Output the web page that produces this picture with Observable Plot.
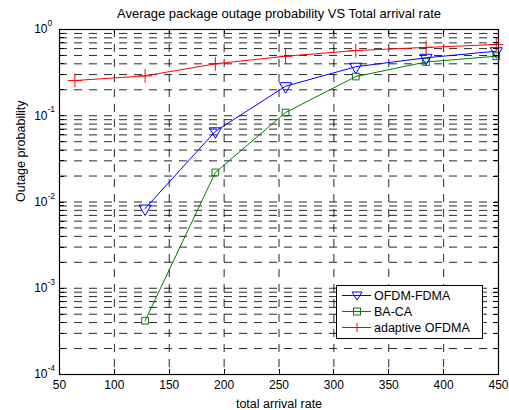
<!DOCTYPE html>
<html>
<head>
<meta charset="utf-8">
<script src="https://cdn.jsdelivr.net/npm/d3@7"></script>
<script src="https://cdn.jsdelivr.net/npm/@observablehq/plot@0.6"></script>
<style>
  html, body { margin: 0; padding: 0; background: #fff; }
  svg { font-family: "Liberation Sans", Arial, sans-serif; }
</style>
</head>
<body>
<div id="chart"></div>
<script>
const titleText = "Average package outage probability VS Total arrival rate";
const xLabel = "total arrival rate";
const yLabel = "Outage probability";

const arrivalRate = [64, 128, 192, 256, 320, 384, 448];
const ofdmFdma = [null, 0.0084, 0.066, 0.22, 0.37, 0.47, 0.56];
const baCa = [null, 0.00042, 0.022, 0.109, 0.285, 0.42, 0.49];
const adaptiveOfdma = [0.256, 0.29, 0.40, 0.49, 0.57, 0.62, 0.67];

const seriesNames = ["OFDM-FDMA", "BA-CA", "adaptive OFDMA"];
const seriesColors = ["#0000ff", "#008000", "#ff0000"];

const xTicks = [50, 100, 150, 200, 250, 300, 350, 400, 450];
const yMajor = [1e-4, 1e-3, 1e-2, 1e-1, 1];
const yMinorMult = [2, 3, 4, 5, 6, 7, 8, 9];

(function () {
const yAll = [];
for (const m of yMajor.slice(0, -1)) {
  for (const k of [1, ...yMinorMult]) yAll.push(k * m);
}
yAll.push(1);
const yGrid = yAll.filter(v => v > 1e-4 * 1.0001 && v < 0.9999);
const xGrid = xTicks.slice(1, -1);

function toRows(vals) {
  return arrivalRate.map((x, i) => ({x, y: vals[i]})).filter(d => d.y != null);
}
const rowsBlue = toRows(ofdmFdma);
const rowsGreen = toRows(baCa);
const rowsRed = toRows(adaptiveOfdma);

const dash = "8,7";
const fs = 12.5;

const plot = Plot.plot({
  width: 509,
  height: 410,
  marginLeft: 59,
  marginRight: 11,
  marginTop: 29,
  marginBottom: 36,
  style: {fontFamily: "Liberation Sans, Arial, sans-serif", fontSize: "12px", background: "#fff", color: "#000"},
  x: {domain: [50, 450], axis: null},
  y: {type: "log", domain: [1e-4, 1], axis: null},
  marks: [
    Plot.ruleX(xGrid, {x: d => d, stroke: "#000", strokeWidth: 1, strokeDasharray: dash, strokeOpacity: 0.85}),
    Plot.ruleY(yGrid, {y: d => d, stroke: "#000", strokeWidth: 1, strokeDasharray: dash, strokeOpacity: 0.85}),
    Plot.line(rowsGreen, {x: "x", y: "y", stroke: seriesColors[1], strokeWidth: 1}),
    Plot.dot(rowsGreen, {x: "x", y: "y", symbol: "square", r: 3.8, stroke: seriesColors[1], fill: "none", strokeWidth: 1}),
    Plot.line(rowsBlue, {x: "x", y: "y", stroke: seriesColors[0], strokeWidth: 1}),
    Plot.dot(rowsBlue, {x: "x", y: "y", symbol: "triangle", rotate: 180, r: 4.5, stroke: seriesColors[0], fill: "none", strokeWidth: 1}),
    Plot.line(rowsRed, {x: "x", y: "y", stroke: seriesColors[2], strokeWidth: 1}),
    Plot.dot(rowsRed, {x: "x", y: "y", symbol: "plus", r: 4.5, stroke: seriesColors[2], fill: "none", strokeWidth: 1}),
    Plot.frame({stroke: "#000", strokeWidth: 1.2}),
    Plot.text(xTicks, {x: d => d, text: d => String(d), frameAnchor: "bottom", dy: 11, lineAnchor: "middle", fontSize: 12, fill: "#000"}),
    Plot.text(yMajor, {y: d => d, text: () => "10", frameAnchor: "left", dx: -12, textAnchor: "end", lineAnchor: "middle", fontSize: 12, fill: "#000"}),
    Plot.text(yMajor, {y: d => d, text: d => String(Math.round(Math.log10(d))), frameAnchor: "left", dx: -12, dy: -6, textAnchor: "start", lineAnchor: "middle", fontSize: 8.5, fill: "#000"}),
    Plot.text([titleText], {frameAnchor: "top", dy: -16, lineAnchor: "middle", fontSize: 13, fill: "#000"}),
    Plot.text([xLabel], {frameAnchor: "bottom", dy: 29, lineAnchor: "middle", fontSize: fs, fill: "#000"}),
    Plot.text([yLabel], {frameAnchor: "left", dx: -39, rotate: -90, lineAnchor: "middle", fontSize: fs, fill: "#000"})
  ]
});

document.getElementById("chart").appendChild(plot);

const sx = plot.scale("x");
const sy = plot.scale("y");
const svg = d3.select(plot);
const fLeft = 59, fRight = 509 - 11, fTop = 29, fBottom = 410 - 36;
const tickLen = 5;
const g = svg.append("g").attr("stroke", "#000").attr("stroke-width", 1);
for (const v of xTicks) {
  const px = Math.round(sx.apply(v)) + 0.5;
  g.append("line").attr("x1", px).attr("x2", px).attr("y1", fBottom).attr("y2", fBottom - tickLen);
  g.append("line").attr("x1", px).attr("x2", px).attr("y1", fTop).attr("y2", fTop + tickLen);
}
for (const v of yAll) {
  const py = Math.round(sy.apply(v)) + 0.5;
  g.append("line").attr("x1", fLeft).attr("x2", fLeft + tickLen).attr("y1", py).attr("y2", py);
  g.append("line").attr("x1", fRight).attr("x2", fRight - tickLen).attr("y1", py).attr("y2", py);
}

const lg = svg.append("g").attr("text-anchor", "start");
lg.append("rect").attr("x", 336.5).attr("y", 285.5).attr("width", 146).attr("height", 53)
  .attr("fill", "#fff").attr("stroke", "#000").attr("stroke-width", 1);
const symbols = [
  (gg, cx, cy, c) => gg.append("path").attr("d", `M${cx - 5},${cy - 3.5}L${cx + 5},${cy - 3.5}L${cx},${cy + 4.5}Z`).attr("fill", "none").attr("stroke", c),
  (gg, cx, cy, c) => gg.append("rect").attr("x", cx - 3.5).attr("y", cy - 3.5).attr("width", 7).attr("height", 7).attr("fill", "none").attr("stroke", c),
  (gg, cx, cy, c) => gg.append("path").attr("d", `M${cx - 4.5},${cy}L${cx + 4.5},${cy}M${cx},${cy - 4.5}L${cx},${cy + 4.5}`).attr("fill", "none").attr("stroke", c)
];
const legendY = [295.5, 311.5, 327.5];
seriesNames.forEach((name, i) => {
  const cy = legendY[i];
  lg.append("line").attr("x1", 342).attr("x2", 371).attr("y1", cy).attr("y2", cy).attr("stroke", seriesColors[i]);
  symbols[i](lg, 357, cy, seriesColors[i]);
  lg.append("text").attr("x", 374).attr("y", cy).attr("dy", "0.35em").attr("font-size", fs).attr("text-anchor", "start").attr("fill", "#000").text(name);
});
})();
</script>
</body>
</html>
